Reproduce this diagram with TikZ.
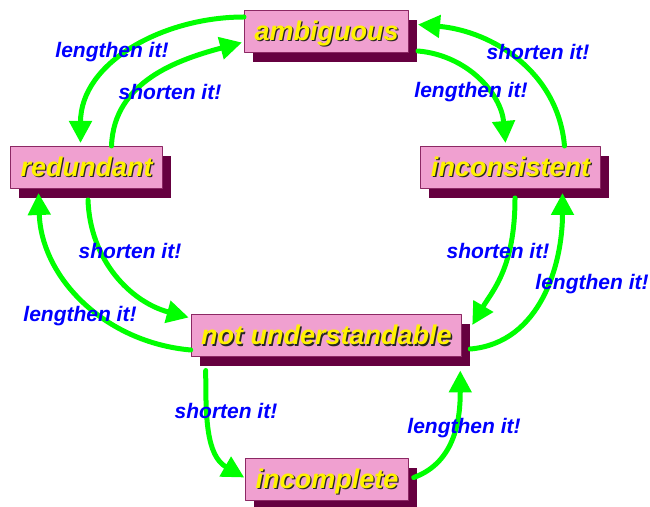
\documentclass[tikz,border=0pt]{standalone}
\usepackage{fontspec}
\setmainfont{Liberation Sans}
\usetikzlibrary{arrows.meta,shadows}
\definecolor{boxpink}{RGB}{240,160,208}
\definecolor{boxedge}{RGB}{140,40,100}
\definecolor{boxshade}{RGB}{102,0,64}
\definecolor{fixgreen}{RGB}{0,255,0}
\newcommand\ytext[1]{\makebox[0pt][l]{\kern1.3pt\raisebox{-1.3pt}{\color{black!85}#1}}#1}
\tikzset{
	quality/.style={draw=boxedge, line width=1pt, fill=boxpink, text=yellow,
		font=\fontsize{27}{29}\selectfont\bfseries\itshape, inner xsep=10pt, inner ysep=9pt,
		minimum height=42pt, text height=21pt, text depth=3pt,
		drop shadow={shadow xshift=8.5pt, shadow yshift=-9.5pt, fill=boxshade, opacity=1}},
	hint/.style={text=blue, font=\fontsize{21}{23}\selectfont\bfseries\itshape},
	fix/.style={draw=fixgreen, line width=5pt, ->}
}
\begin{document}
\begin{tikzpicture}[x=1pt,y=1pt,>={Triangle[length=22pt,width=22pt]}, line join=round, line cap=round]
	\def\xmax{650} \def\ymax{506}
	\useasboundingbox (0,0) rectangle (\xmax,\ymax);
	% the five qualities
	\node[quality] (amb) at (326.5,474.5) {\ytext{ambiguous}};
	\node[quality] (red) at (86.5,338.5) {\ytext{redundant}};
	\node[quality] (inc) at (510.5,338.5) {\ytext{inconsistent}};
	\node[quality] (nu) at (326.5,170) {\ytext{not understandable}};
	\node[quality] (cmp) at (327,26.5) {\ytext{incomplete}};
	% arrows
	\draw[fix] ([yshift=-7pt]amb.north west) to[out=180,in=90] ([xshift=-6pt,yshift=3pt]red.north);
	\draw[fix] ([xshift=25pt]red.north) to[out=88,in=195] ([xshift=-2pt,yshift=-11pt]amb.west);
	\draw[fix] ([xshift=9pt,yshift=2pt]amb.south east) to[out=-5,in=95] ([xshift=-5pt,yshift=3pt]inc.north);
	\draw[fix] ([xshift=54pt]inc.north) to[out=95,in=-5] ([xshift=9pt,yshift=7pt]amb.east);
	\draw[fix] ([xshift=1.5pt,yshift=-11pt]red.south) to[out=-88,in=165] ([xshift=-2pt,yshift=-3pt]nu.north west);
	\draw[fix] ([yshift=-14pt]nu.west) to[out=175,in=-88] ([xshift=-48pt,yshift=-4pt]red.south);
	\draw[fix] ([xshift=4.5pt,yshift=-9pt]inc.south) .. controls +(0,-70) and +(20,34) .. ([xshift=10pt,yshift=11pt]nu.east);
	\draw[fix] ([xshift=8pt,yshift=-13pt]nu.east) to[out=5,in=-90] ([xshift=52pt,yshift=-4pt]inc.south);
	\draw[fix] ([xshift=15pt,yshift=-13pt]nu.south west) to[out=-90,in=150] ([xshift=-1pt,yshift=2pt]cmp.west);
	\draw[fix] ([xshift=5pt,yshift=2pt]cmp.east) to[out=20,in=-90] ([xshift=-2pt,yshift=-13pt]nu.south east);
	% labels
	\node[hint] (l1) at (112,454) {lengthen it!};
	\node[hint] (l2) at (170,414) {shorten it!};
	\node[hint] (l3) at (471,414) {lengthen it!};
	\node[hint] (l4) at (538,454) {shorten it!};
	\node[hint] (l5) at (130,255) {shorten it!};
	\node[hint] (l6) at (80,190) {lengthen it!};
	\node[hint] (l7) at (498,255) {shorten it!};
	\node[hint] (l8) at (592,222) {lengthen it!};
	\node[hint] (l9) at (226,95) {shorten it!};
	\node[hint] (l10) at (464,78) {lengthen it!};
\end{tikzpicture}
\end{document}
